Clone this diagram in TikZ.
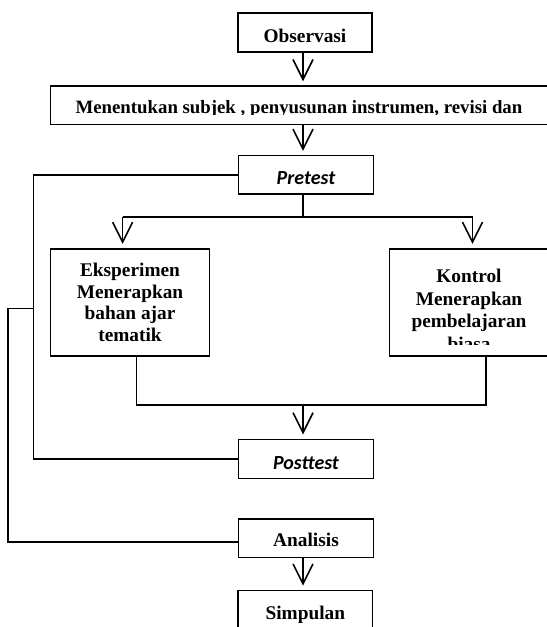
\documentclass[tikz,border=0pt]{standalone}
\usepackage{fontspec}
\setmainfont{Liberation Serif}
\newfontfamily\calibfont{Carlito}
\usetikzlibrary{arrows.meta,positioning}
\tikzset{
  stepbox/.style={draw=black,line width=1.2pt,inner sep=0pt,text depth=0pt,
    font=\fontsize{14.5}{16.3}\selectfont\bfseries,align=center},
  testbox/.style={stepbox,font=\fontsize{15}{17}\selectfont\calibfont\bfseries\itshape},
  boxtext/.style={inner sep=0pt,font=\fontsize{14.5}{16.3}\selectfont\bfseries,align=center},
  flow/.style={-{Straight Barb[length=15pt,width=15pt]},line width=1.2pt,shorten >=3pt},
  link/.style={line width=1.2pt}
}

\begin{document}
\begin{tikzpicture}[x=0.75pt,y=-0.75pt]
  \useasboundingbox (0,0) rectangle (546,627);

  \node[stepbox,minimum width=100.5pt,minimum height=29.25pt,text height=14.25pt] (obs) at (305,32.8) {Observasi};
  \node[stepbox,minimum width=373.1pt,minimum height=28.7pt] (men) at (299.3,105.2) {};
  \node[testbox,minimum width=101.3pt,minimum height=28.7pt,text height=15.3pt] (pre) at (306,174.8) {Pretest};
  \node[stepbox,minimum width=119.3pt,minimum height=80.25pt] (eks) at (130,302.2)
    {Eksperimen\\Menerapkan\\bahan ajar\\tematik};
  \node[stepbox,minimum width=119.5pt,minimum height=80.25pt] (kon) at (469,302.2) {};
  \node[testbox,minimum width=101.3pt,minimum height=29.25pt,text height=15.75pt] (post) at (306,458.8) {Posttest};
  \node[stepbox,minimum width=101pt,minimum height=29pt,text height=12.6pt] (ana) at (306,538.3) {Analisis};
  \node[stepbox,minimum width=101pt,minimum height=29.25pt] (sim) at (305.3,610) {};

  % texts cut off by their boxes
  \begin{scope}
    \clip (men.north west) rectangle (men.east |- 0,114.5);
    \node[boxtext,anchor=base,font=\fontsize{14.1}{16}\selectfont\bfseries] (mentext) at (299,113.3)
      {Menentukan subjek , penyusunan instrumen, revisi dan};
  \end{scope}
  \begin{scope}
    \clip (kon.north west) rectangle (kon.east |- 0,344);
    \node[boxtext,font=\fontsize{14.5}{17}\selectfont\bfseries] (kontext) at (469,310)
      {Kontrol\\Menerapkan\\pembelajaran\\biasa};
  \end{scope}
  \begin{scope}
    \clip (sim.north west) rectangle (sim.east |- 0,622.5);
    \node[boxtext,anchor=base] (simtext) at (305.3,619.3) {Simpulan};
  \end{scope}

  \coordinate (spine) at (303,0);
  \coordinate (split) at (303,216.7);
  \coordinate (eksin) at (122.6,216.7);
  \coordinate (konin) at (472.5,216.7);
  \coordinate (eksout) at (136.5,405);
  \coordinate (konout) at (485.7,405);
  \coordinate (merge) at (303,405);
  \coordinate (inner) at (33.5,308.3);
  \coordinate (outer) at (7.7,308.3);
  \coordinate (anain) at ([yshift=-2.7pt]ana.west);

  \draw[flow] (obs.south -| spine) -- (men.north -| spine);
  \draw[flow] (men.south -| spine) -- (pre.north -| spine);
  \draw[link] (pre.south -| spine) -- (split);
  \draw[link] (eksin) -- (konin);
  \draw[flow] (eksin) -- (eksin |- eks.north);
  \draw[flow] (konin) -- (konin |- kon.north);
  \draw[link] (eksout |- eks.south) -- (eksout) -- (konout) -- (konout |- kon.south);
  \draw[flow] (merge) -- (merge |- post.north);
  \draw[flow] (ana.south -| spine) -- (sim.north -| spine);

  % loops back from the tests
  \draw[link] (pre.west) -- (pre.west -| inner) -- (post.west -| inner) -- (post.west);
  \draw[link] (inner) -- (outer) -- (outer |- anain) -- (anain);
\end{tikzpicture}
\end{document}
